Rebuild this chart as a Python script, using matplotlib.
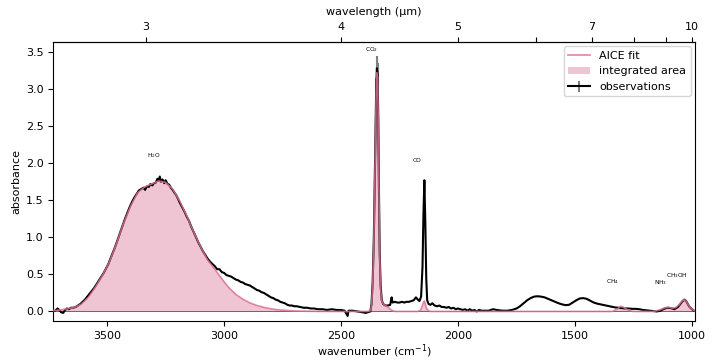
import numpy as np
import matplotlib
matplotlib.use("Agg")
import matplotlib.pyplot as plt
from matplotlib.patches import Patch

# ---------------- data ----------------
obs_wn = [3731, 3722, 3712, 3705, 3697, 3688, 3680, 3672, 3663, 3655, 3645, 3635, 3625, 3615,
          3605, 3595, 3585, 3575, 3565, 3555, 3545, 3535, 3525, 3515, 3505, 3495, 3485, 3475,
          3465, 3455, 3445, 3435, 3425, 3415, 3405, 3395, 3385, 3375, 3365, 3355, 3345, 3338,
          3330, 3322, 3315, 3307, 3300, 3292, 3285, 3280, 3275, 3270, 3263, 3256, 3250, 3242,
          3235, 3228, 3220, 3212, 3205, 3197, 3190, 3180, 3170, 3160, 3150, 3140, 3130, 3120,
          3110, 3100, 3090, 3080, 3070, 3060, 3050, 3040, 3030, 3020, 3010, 3000, 2990, 2980,
          2970, 2960, 2950, 2940, 2930, 2920, 2910, 2900, 2890, 2880, 2870, 2860, 2850, 2840,
          2830, 2820, 2810, 2800, 2790, 2780, 2770, 2760, 2750, 2740, 2730, 2720, 2710, 2700,
          2690, 2675, 2660, 2645, 2630, 2615, 2600, 2580, 2560, 2540, 2520, 2500, 2485, 2472,
          2468, 2450, 2430, 2410, 2395, 2385, 2375, 2370, 2365, 2360, 2355, 2350, 2347, 2344,
          2341, 2338, 2335, 2331, 2326, 2320, 2310, 2300, 2290, 2284, 2280, 2270, 2260, 2250,
          2240, 2230, 2220, 2210, 2200, 2190, 2180, 2175, 2165, 2158, 2152, 2148, 2144, 2140,
          2136, 2132, 2126, 2118, 2110, 2100, 2090, 2080, 2070, 2060, 2050, 2040, 2030, 2020,
          2010, 2000, 1990, 1980, 1970, 1960, 1950, 1940, 1930, 1920, 1910, 1900, 1890, 1870,
          1850, 1835, 1810, 1790, 1770, 1750, 1735, 1720, 1705, 1690, 1675, 1660, 1645, 1630,
          1615, 1600, 1585, 1570, 1555, 1540, 1525, 1510, 1495, 1480, 1465, 1450, 1435, 1420,
          1405, 1390, 1375, 1360, 1345, 1330, 1315, 1300, 1285, 1270, 1255, 1240, 1225, 1210,
          1195, 1180, 1165, 1150, 1135, 1120, 1105, 1090, 1075, 1060, 1050, 1040, 1032, 1025,
          1018, 1010, 1000, 992]
obs_abs = [0.00, 0.01, 0.04, 0.02, -0.01, -0.02, 0.02, 0.04, 0.03, 0.05, 0.05, 0.06, 0.08, 0.10,
           0.13, 0.16, 0.20, 0.24, 0.28, 0.32, 0.37, 0.42, 0.47, 0.52, 0.58, 0.64, 0.72, 0.80,
           0.88, 0.97, 1.06, 1.15, 1.24, 1.32, 1.40, 1.47, 1.53, 1.58, 1.63, 1.65, 1.67, 1.64,
           1.69, 1.68, 1.72, 1.70, 1.73, 1.74, 1.79, 1.76, 1.82, 1.75, 1.78, 1.73, 1.77, 1.72,
           1.71, 1.67, 1.64, 1.60, 1.57, 1.52, 1.47, 1.41, 1.35, 1.28, 1.22, 1.14, 1.07, 1.00,
           0.93, 0.87, 0.81, 0.76, 0.71, 0.67, 0.64, 0.61, 0.57, 0.57, 0.53, 0.52, 0.49, 0.48,
           0.47, 0.45, 0.43, 0.42, 0.40, 0.39, 0.37, 0.36, 0.35, 0.33, 0.31, 0.29, 0.28, 0.26,
           0.25, 0.23, 0.21, 0.19, 0.18, 0.16, 0.15, 0.13, 0.12, 0.11, 0.09, 0.08, 0.08, 0.07,
           0.07, 0.06, 0.05, 0.05, 0.04, 0.04, 0.03, 0.03, 0.02, 0.03, 0.02, 0.02, 0.01, -0.06,
           0.01, 0.01, 0.00, -0.01, -0.02, -0.01, 0.00, 0.10, 0.40, 1.00, 2.00, 3.00, 3.28, 3.20,
           2.60, 1.60, 0.80, 0.35, 0.15, 0.10, 0.08, 0.08, 0.09, 0.19, 0.12, 0.13, 0.12, 0.12,
           0.13, 0.12, 0.13, 0.13, 0.14, 0.15, 0.19, 0.17, 0.14, 0.20, 0.60, 1.30, 1.77, 1.20,
           0.45, 0.15, 0.10, 0.09, 0.11, 0.08, 0.07, 0.08, 0.06, 0.06, 0.05, 0.06, 0.04, 0.05,
           0.03, 0.04, 0.03, 0.02, 0.03, 0.01, 0.03, 0.01, 0.02, 0.00, 0.02, 0.01, 0.01, 0.01,
           0.03, 0.02, 0.01, 0.01, 0.02, 0.04, 0.07, 0.11, 0.15, 0.18, 0.20, 0.205, 0.20, 0.19,
           0.17, 0.15, 0.13, 0.11, 0.095, 0.085, 0.09, 0.12, 0.15, 0.175, 0.18, 0.17, 0.145, 0.12,
           0.105, 0.095, 0.085, 0.075, 0.065, 0.055, 0.05, 0.045, 0.04, 0.04, 0.035, 0.035, 0.03, 0.02,
           0.015, 0.01, 0.005, 0.00, 0.01, 0.035, 0.05, 0.045, 0.03, 0.06, 0.10, 0.14, 0.16, 0.14,
           0.10, 0.06, 0.03, 0.01]
# uncertainties (only visible at the saturated CO2 peak)
err_wn = [2350, 2347, 2344]
err_val = [0.15, 0.17, 0.15]

fit_wn = [3731, 3700, 3670, 3640, 3610, 3580, 3550, 3520, 3490, 3460, 3430, 3400, 3370, 3340,
          3310, 3280, 3250, 3220, 3190, 3160, 3130, 3100, 3070, 3040, 3010, 2980, 2950, 2920,
          2890, 2860, 2830, 2800, 2770, 2740, 2700, 2650, 2600, 2550, 2500, 2450, 2400, 2385,
          2375, 2370, 2365, 2360, 2355, 2350, 2347, 2344, 2341, 2338, 2335, 2331, 2326, 2320,
          2310, 2300, 2290, 2280, 2270, 2200, 2170, 2160, 2152, 2148, 2144, 2140, 2136, 2130,
          2120, 2000, 1800, 1600, 1400, 1340, 1320, 1305, 1295, 1280, 1265, 1250, 1200, 1170,
          1150, 1130, 1115, 1100, 1085, 1070, 1055, 1045, 1035, 1028, 1020, 1010, 1000, 990]
fit_abs = [0.01, 0.02, 0.035, 0.055, 0.10, 0.19, 0.33, 0.49, 0.67, 0.92, 1.19, 1.42, 1.60, 1.68,
           1.72, 1.76, 1.74, 1.65, 1.49, 1.29, 1.07, 0.87, 0.69, 0.57, 0.44, 0.32, 0.23, 0.165,
           0.115, 0.08, 0.055, 0.035, 0.022, 0.015, 0.006, 0.003, 0.001, 0.0, 0.0, 0.0, 0.0, 0.0,
           0.01, 0.08, 0.35, 0.95, 1.95, 2.95, 3.22, 3.15, 2.55, 1.55, 0.75, 0.30, 0.14, 0.10,
           0.08, 0.06, 0.03, 0.01, 0.0, 0.0, 0.0, 0.02, 0.08, 0.12, 0.14, 0.10, 0.05, 0.02,
           0.0, 0.0, 0.0, 0.0, 0.0, 0.0, 0.03, 0.07, 0.06, 0.03, 0.01, 0.0, 0.0, 0.0,
           0.01, 0.03, 0.05, 0.055, 0.045, 0.05, 0.09, 0.13, 0.16, 0.15, 0.11, 0.06, 0.03, 0.01]

labels = ["H$_2$O", "CO$_2$", "CO", "CH$_4$", "NH$_3$", "CH$_3$OH"]
label_wn = [3300, 2372, 2176, 1338, 1137, 1065]
label_y = [2.04, 3.47, 2.0, 0.34, 0.33, 0.42]

wl_ticks = [3, 4, 5, 6, 7, 8, 9, 10]
wl_ticklabels = ["3", "4", "5", "", "7", "", "", "10"]

# ---------------- plot ----------------
plt.rcParams['font.size'] = 8
fig = plt.figure(figsize=(7.18, 3.62), dpi=100)
ax = fig.add_axes([0.074, 0.112, 0.894, 0.772])

pink = "palevioletred"

obs_err = np.zeros(len(obs_wn))
for w, e in zip(err_wn, err_val):
    obs_err[obs_wn.index(w)] = e

ax.axhline(0, color="0.3", lw=0.7, zorder=1)
ax.fill_between(fit_wn, 0, fit_abs, color=pink, alpha=0.4, lw=0, zorder=1.5)
eb = ax.errorbar(obs_wn, obs_abs, yerr=obs_err, color="k", ecolor="gray", elinewidth=1.5,
                 lw=1.5, zorder=2)
ln, = ax.plot(fit_wn, fit_abs, color=pink, lw=1.2, alpha=0.85, zorder=3)

for t, x, y in zip(labels, label_wn, label_y):
    ax.text(x, y, t, fontsize=4.2, ha="center", va="bottom")

ax.set_xlim(3731, 987)
ax.set_ylim(-0.135, 3.635)
ax.set_xlabel("wavenumber (cm$^{-1}$)", labelpad=1)
ax.set_ylabel("absorbance", labelpad=3)
ax.set_xticks([3500, 3000, 2500, 2000, 1500, 1000])
ax.set_yticks([0.0, 0.5, 1.0, 1.5, 2.0, 2.5, 3.0, 3.5])


def wn2wl(x):
    x = np.asarray(x, dtype=float)
    with np.errstate(divide="ignore", invalid="ignore"):
        return 1e4 / x


sec = ax.secondary_xaxis("top", functions=(wn2wl, wn2wl))
sec.set_xticks(wl_ticks)
sec.set_xticklabels(wl_ticklabels)
sec.set_xlabel("wavelength (µm)", labelpad=5)

handles = [ln, Patch(facecolor=pink, alpha=0.4, edgecolor="none"), eb]
ax.legend(handles, ["AICE fit", "integrated area", "observations"], loc="upper right",
          fontsize=8, borderaxespad=0.4)

fig.savefig("out.png", dpi=100)
